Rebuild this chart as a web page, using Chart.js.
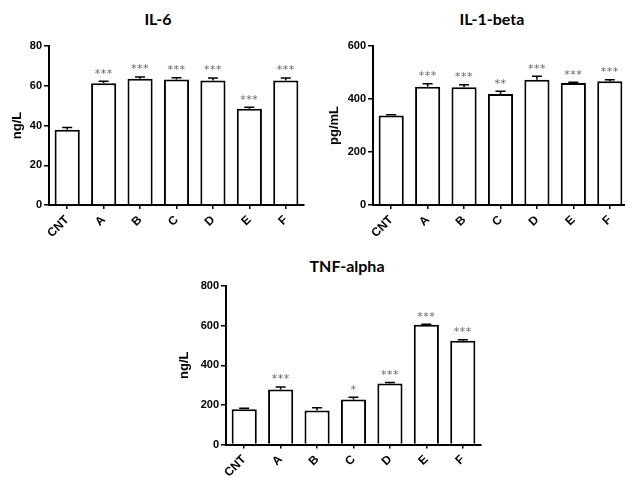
<!DOCTYPE html>
<html>
<head>
<meta charset="utf-8">
<script src="https://cdn.jsdelivr.net/npm/chart.js@4.4.1/dist/chart.umd.min.js"></script>
<style>
  html, body { margin: 0; padding: 0; background: #fff; }
  body { width: 625px; height: 478px; position: relative; overflow: hidden; }
  canvas { position: absolute; }
  .title { position: absolute; transform: translate(-50%, -50%); font: bold 16px Lato, sans-serif; color: #000; white-space: nowrap; }
</style>
</head>
<body>
<div class="title" style="left:158px;top:18px">IL-6</div>
<div class="title" style="left:492px;top:18px">IL-1-beta</div>
<div class="title" style="left:347px;top:265px">TNF-alpha</div>
<canvas id="il6Chart" width="312" height="240" style="left:0;top:0"></canvas>
<canvas id="il1Chart" width="320" height="240" style="left:310px;top:0"></canvas>
<canvas id="tnfChart" width="340" height="238" style="left:150px;top:240px"></canvas>
<script>
const categories = ['CNT', 'A', 'B', 'C', 'D', 'E', 'F'];

const il6Values = [37.8, 61.3, 63.5, 63.1, 62.6, 48.4, 62.6];
const il6Errors = [1.2, 1.0, 0.9, 0.9, 1.3, 0.8, 1.3];
const il6Stars = ['', '***', '***', '***', '***', '***', '***'];
const il6Ticks = [0, 20, 40, 60, 80];

const il1Values = [338, 446, 444, 419, 473, 460, 467];
const il1Errors = [3, 12, 10, 10, 13, 3, 6];
const il1Stars = ['', '***', '***', '**', '***', '***', '***'];
const il1Ticks = [0, 200, 400, 600];

const tnfValues = [178, 278, 172, 227, 308, 604, 524];
const tnfErrors = [5, 12, 14, 11, 5, 3, 5];
const tnfStars = ['', '***', '', '*', '***', '***', '***'];
const tnfTicks = [0, 200, 400, 600, 800];

const yTickFont = { family: 'Liberation Sans', weight: 'bold', size: 11 };
const xTickFont = { family: 'Liberation Sans', weight: 'bold', size: 12 };

// error bars (upper whisker only) and significance stars
const errorBarPlugin = {
  id: 'errorBars',
  afterDatasetsDraw(chart) {
    const ctx = chart.ctx;
    const y = chart.scales.y;
    const ds = chart.data.datasets[0];
    const meta = chart.getDatasetMeta(0);
    ctx.save();
    meta.data.forEach((bar, i) => {
      const yBar = y.getPixelForValue(ds.data[i]);
      const yTop = y.getPixelForValue(ds.data[i] + ds.errors[i]);
      ctx.strokeStyle = '#000';
      ctx.lineWidth = 1.5;
      ctx.beginPath();
      ctx.moveTo(bar.x, yBar);
      ctx.lineTo(bar.x, yTop);
      ctx.moveTo(bar.x - 5, yTop);
      ctx.lineTo(bar.x + 5, yTop);
      ctx.stroke();
      if (ds.stars[i]) {
        ctx.fillStyle = '#666';
        ctx.font = '11px "DejaVu Sans"';
        ctx.letterSpacing = '0.5px';
        ctx.textAlign = 'center';
        ctx.textBaseline = 'bottom';
        ctx.fillText(ds.stars[i], bar.x, yTop - 2);
      }
    });
    ctx.restore();
  }
};

function makePanel(id, unit, values, errors, stars, ticks, yWidth, titlePad, padRight, xHeight) {
  return new Chart(document.getElementById(id).getContext('2d'), {
    type: 'bar',
    data: {
      labels: categories,
      datasets: [
        {
          data: values,
          errors: errors,
          stars: stars,
          backgroundColor: '#fff',
          borderColor: '#000',
          borderWidth: 2,
          barPercentage: 0.69,
          categoryPercentage: 1
        }
      ]
    },
    options: {
      responsive: false,
      animation: false,
      layout: { padding: { top: 46, right: padRight, left: 0, bottom: 0 } },
      plugins: {
        legend: { display: false },
        tooltip: { enabled: false }
      },
      scales: {
        y: {
          min: ticks[0],
          max: ticks[ticks.length - 1],
          afterBuildTicks: s => { s.ticks = ticks.map(v => ({ value: v })); },
          afterFit: s => { s.width = yWidth; },
          ticks: { color: '#000', font: yTickFont, padding: 2 },
          grid: { drawOnChartArea: false, tickLength: 5, color: '#000', lineWidth: 1.5 },
          border: { color: '#000', width: 2 },
          title: {
            display: true,
            text: unit,
            color: '#000',
            font: { family: 'Liberation Sans', weight: 'bold', size: 13 },
            padding: { top: titlePad, bottom: 0 }
          }
        },
        x: {
          afterFit: s => { s.height = xHeight; },
          ticks: { color: '#000', font: xTickFont, minRotation: 45, maxRotation: 45, autoSkip: false, padding: 4 },
          grid: { offset: false, drawOnChartArea: false, tickLength: 4, color: '#000', lineWidth: 1.5 },
          border: { color: '#000', width: 2 }
        }
      }
    },
    plugins: [errorBarPlugin]
  });
}

makePanel('il6Chart', 'ng/L', il6Values, il6Errors, il6Stars, il6Ticks, 49, 10, 8, 35);
makePanel('il1Chart', 'pg/mL', il1Values, il1Errors, il1Stars, il1Ticks, 63, 17, 2, 35);
makePanel('tnfChart', 'ng/L', tnfValues, tnfErrors, tnfStars, tnfTicks, 76, 27, 9, 33.5);
</script>
</body>
</html>
